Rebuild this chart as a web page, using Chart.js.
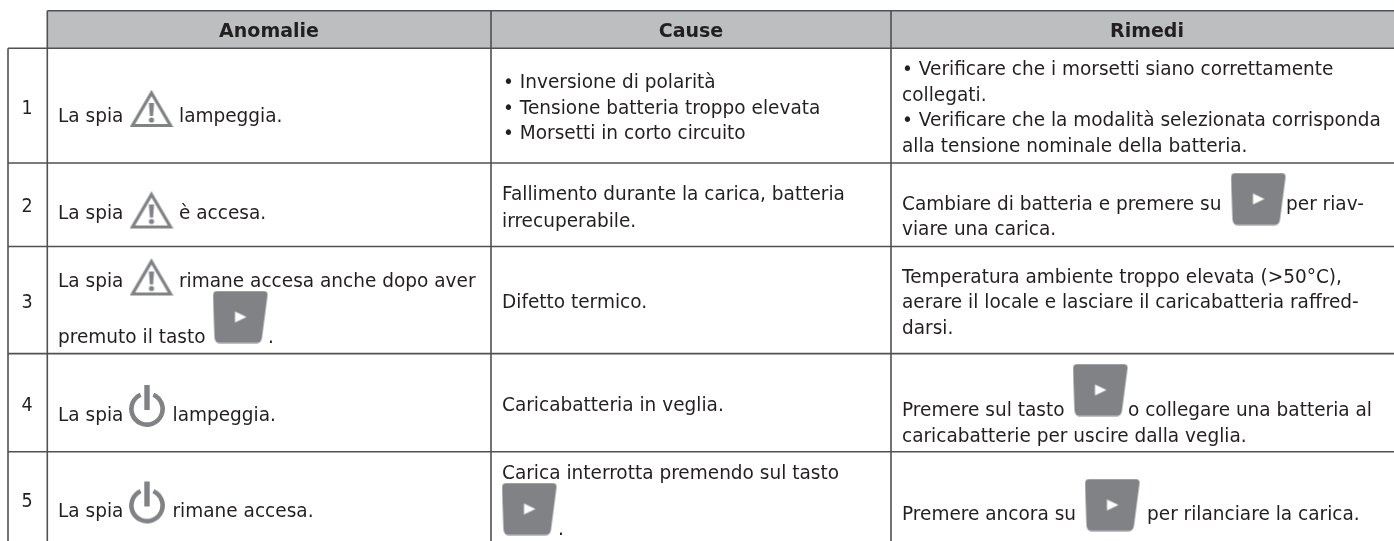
<!DOCTYPE html>
<html>
<head>
<meta charset="utf-8">
<title>Anomalie</title>
<script src="https://cdn.jsdelivr.net/npm/chart.js@4"></script>
<style>
	html, body { margin: 0; padding: 0; background: #fff; overflow: hidden; }
	canvas { display: block; }
</style>
</head>
<body>
<canvas id="chartAnomalie" width="1394" height="541"></canvas>
<script>
'use strict';

// table content
const headers = ['Anomalie', 'Cause', 'Rimedi'];
const rowLabels = ['1', '2', '3', '4', '5'];
const anomalieLines = ['La spia', 'lampeggia.', 'La spia', 'è accesa.', 'La spia', 'rimane accesa anche dopo aver', 'premuto il tasto', '.', 'La spia', 'lampeggia.', 'La spia', 'rimane accesa.'];
const causeLines = ['• Inversione di polarità', '• Tensione batteria troppo elevata', '• Morsetti in corto circuito', 'Fallimento durante la carica, batteria', 'irrecuperabile.', 'Difetto termico.', 'Caricabatteria in veglia.', 'Carica interrotta premendo sul tasto', '.'];
const rimediLines = ['• Verificare che i morsetti siano correttamente', 'collegati.', '• Verificare che la modalità selezionata corrisponda', 'alla tensione nominale della batteria.', 'Cambiare di batteria e premere su', 'per riav-', 'viare una carica.', 'Temperatura ambiente troppo elevata (>50°C),', 'aerare il locale e lasciare il caricabatteria raffred-', 'darsi.', 'Premere sul tasto', 'o collegare una batteria al', 'caricabatterie per uscire dalla veglia.', 'Premere ancora su', 'per rilanciare la carica.'];

// grid edges on the page scale
const columnEdges = [8, 47.3, 491, 891];
const rowEdges = [10.8, 48.3, 163, 246.5, 353.6, 451.8];

// text anchors: [x, baseline], same order as the lists above
const headerAt = [[269, 36.5], [691, 36.5], [1147, 36.5]];
const rowLabelAt = [[27, 114], [27, 212], [27, 308], [27, 411], [27, 507]];
const anomalieAt = [[58, 122], [179, 122], [58, 219], [179, 219], [58, 287], [179, 287], [58, 343], [268, 343], [58, 421], [172.5, 421], [58, 517], [172.5, 517]];
const causeAt = [[503, 88], [503, 114], [503, 139], [502, 200], [502, 227], [502, 308], [502, 411], [502, 479], [558, 535]];
const rimediAt = [[902, 75], [902, 101], [902, 126], [902, 152], [902, 210], [1286, 210], [902, 235], [902, 283], [902, 308], [902, 334], [902, 416], [1128, 416], [902, 442], [902, 520], [1147, 520]];

// icon centres
const warningAt = [{x: 151.5, y: 108}, {x: 151.5, y: 209.5}, {x: 151.5, y: 276.5}];
const powerAt = [{x: 147, y: 406}, {x: 147, y: 502.5}];
const buttonAt = [{x: 240.5, y: 317}, {x: 1258.5, y: 199}, {x: 1100.5, y: 390}, {x: 1112.5, y: 505}, {x: 529.5, y: 509}];

const iconGrey = '#808285';
const textColor = '#231f20';
const bodyFont = '20px "DejaVu Sans"';
const headFont = 'bold 19px "DejaVu Sans"';
const labelFont = '19px "DejaVu Sans"';
const bodySqueeze = 0.925;

function newIcon(w, h) {
	const c = document.createElement('canvas');
	c.width = w;
	c.height = h;
	return c;
}

function warningIcon() {
	const c = newIcon(44, 40);
	const g = c.getContext('2d');
	g.strokeStyle = iconGrey;
	g.fillStyle = iconGrey;
	g.lineWidth = 3.2;
	g.lineJoin = 'miter';
	g.beginPath();
	g.moveTo(22, 5);
	g.lineTo(41, 37.5);
	g.lineTo(3, 37.5);
	g.closePath();
	g.stroke();
	g.beginPath();
	g.moveTo(19.4, 15);
	g.lineTo(24.6, 15);
	g.lineTo(23.6, 28);
	g.lineTo(20.4, 28);
	g.closePath();
	g.fill();
	g.beginPath();
	g.arc(22, 32, 2.6, 0, Math.PI * 2);
	g.fill();
	return c;
}

function powerIcon() {
	const c = newIcon(40, 44);
	const g = c.getContext('2d');
	g.strokeStyle = iconGrey;
	g.lineWidth = 4.6;
	g.beginPath();
	g.arc(20, 25, 15.6, -Math.PI / 2 + 0.42, -Math.PI / 2 - 0.42);
	g.stroke();
	g.fillStyle = iconGrey;
	g.fillRect(17.3, 1, 5.4, 25);
	return c;
}

function buttonIcon() {
	const c = newIcon(56, 53);
	const g = c.getContext('2d');
	g.fillStyle = iconGrey;
	g.beginPath();
	g.moveTo(5, 0.5);
	g.lineTo(51, 0.5);
	g.quadraticCurveTo(55.5, 0.5, 55, 5);
	g.lineTo(49.5, 47);
	g.quadraticCurveTo(49, 52.5, 44, 52.5);
	g.lineTo(7, 52.5);
	g.quadraticCurveTo(2.5, 52.5, 2, 47);
	g.lineTo(0.5, 5);
	g.quadraticCurveTo(0.5, 0.5, 5, 0.5);
	g.closePath();
	g.fill();
	g.fillStyle = '#fff';
	g.beginPath();
	g.moveTo(22.5, 21);
	g.lineTo(34, 26.5);
	g.lineTo(22.5, 32);
	g.closePath();
	g.fill();
	return c;
}

function gridLine(x0, y0, x1, y1) {
	return {
		data: [{x: x0, y: y0}, {x: x1, y: y1}],
		showLine: true,
		borderColor: '#505153',
		borderWidth: 1.6,
		pointRadius: 0,
		order: 2
	};
}

const pageRight = 1394;
const pageBottom = 541;
const datasets = [];

// header band
datasets.push({
	data: [{x: columnEdges[1], y: rowEdges[0]}, {x: pageRight, y: rowEdges[0]}],
	showLine: true,
	borderWidth: 0,
	pointRadius: 0,
	backgroundColor: '#bcbec0',
	fill: {target: {value: rowEdges[1]}},
	order: 3
});

rowEdges.forEach(function(y, i) {
	datasets.push(gridLine(i === 0 ? columnEdges[1] : columnEdges[0], y, pageRight, y));
});
columnEdges.forEach(function(x, i) {
	datasets.push(gridLine(x, i === 0 ? rowEdges[1] : rowEdges[0], x, pageBottom));
});

[[warningAt, warningIcon()], [powerAt, powerIcon()], [buttonAt, buttonIcon()]].forEach(function(icon) {
	datasets.push({
		data: icon[0],
		showLine: false,
		pointStyle: icon[1],
		order: 1
	});
});

const cellText = {
	id: 'cellText',
	afterDatasetsDraw: function(chart) {
		const ctx = chart.ctx;
		const sx = chart.scales.x;
		const sy = chart.scales.y;
		function put(lines, at, font, align, squeeze) {
			ctx.font = font;
			ctx.fillStyle = textColor;
			ctx.textBaseline = 'alphabetic';
			ctx.textAlign = align;
			lines.forEach(function(line, i) {
				ctx.save();
				ctx.translate(sx.getPixelForValue(at[i][0]), sy.getPixelForValue(at[i][1]));
				ctx.scale(squeeze, 1);
				ctx.fillText(line, 0, 0);
				ctx.restore();
			});
		}
		ctx.save();
		put(headers, headerAt, headFont, 'center', 1);
		put(rowLabels, rowLabelAt, labelFont, 'center', bodySqueeze);
		put(anomalieLines, anomalieAt, bodyFont, 'left', bodySqueeze);
		put(causeLines, causeAt, bodyFont, 'left', bodySqueeze);
		put(rimediLines, rimediAt, bodyFont, 'left', bodySqueeze);
		ctx.restore();
	}
};

const chartAnomalie = new Chart(document.getElementById('chartAnomalie'), {
	type: 'scatter',
	data: {datasets: datasets},
	options: {
		responsive: false,
		animation: false,
		devicePixelRatio: 1,
		layout: {padding: 0, autoPadding: false},
		plugins: {
			legend: {display: false},
			title: {display: false},
			tooltip: {enabled: false}
		},
		scales: {
			x: {type: 'linear', display: false, min: 0, max: pageRight},
			y: {type: 'linear', display: false, min: 0, max: pageBottom, reverse: true}
		}
	},
	plugins: [cellText]
});
</script>
</body>
</html>
